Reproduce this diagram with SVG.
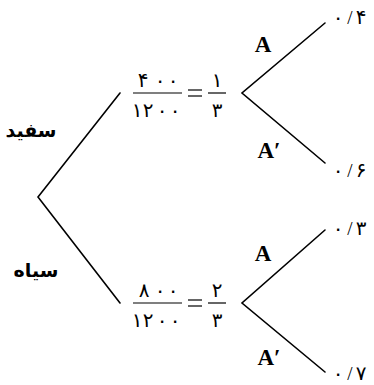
<svg xmlns="http://www.w3.org/2000/svg" width="374" height="385" viewBox="0 0 374 385">
<style>
.ln{stroke:#000;stroke-width:1.6;fill:none;stroke-linecap:round}
.fa{font-family:"DejaVu Sans",sans-serif;font-size:20px;fill:#000;text-anchor:middle}
.sl{font-family:"Liberation Serif",serif;font-size:19px;fill:#000;text-anchor:middle}
.lbl{font-family:"DejaVu Sans",sans-serif;font-size:19px;font-weight:bold;fill:#000;text-anchor:middle}
.ev{font-family:"Liberation Serif",serif;font-size:23px;font-weight:bold;fill:#000;text-anchor:middle}
.bar{stroke:#000;stroke-width:1.2}
</style>
<rect width="374" height="385" fill="#fff"/>
<g id="connectors">
<path class="ln" d="M120,93 L38,197 L120,303"/>
<path class="ln" d="M325,23 L242,93 L325,163"/>
<path class="ln" d="M325,230 L242,303 L325,372"/>
</g>
<g id="white">
<text class="lbl" x="31" y="137">سفید</text>
<text class="fa" x="143 160 173" y="87">۴۰۰</text>
<line class="bar" x1="133" y1="93" x2="182" y2="93"/>
<text class="fa" x="137 148 162 175" y="117">۱۲۰۰</text>
<line class="bar" x1="188" y1="90" x2="202" y2="90"/>
<line class="bar" x1="188" y1="96" x2="202" y2="96"/>
<text class="fa" x="217" y="87">۱</text>
<line class="bar" x1="208" y1="93" x2="226" y2="93"/>
<text class="fa" x="217" y="117">۳</text>
</g>
<g id="black">
<text class="lbl" x="36" y="277">سیاه</text>
<text class="fa" x="144 160 173" y="297">۸۰۰</text>
<line class="bar" x1="133" y1="303" x2="182" y2="303"/>
<text class="fa" x="137 148 162 175" y="327">۱۲۰۰</text>
<line class="bar" x1="188" y1="300" x2="202" y2="300"/>
<line class="bar" x1="188" y1="306" x2="202" y2="306"/>
<text class="fa" x="217" y="297">۲</text>
<line class="bar" x1="208" y1="303" x2="226" y2="303"/>
<text class="fa" x="217" y="327">۳</text>
</g>
<g id="w-A">
<text class="ev" x="263" y="52">A</text>
<text class="fa" x="338" y="24">۰</text>
<text class="sl" x="350" y="24">/</text>
<text class="fa" x="361" y="24">۴</text>
</g>
<g id="w-Ap">
<text class="ev" x="269" y="158">A′</text>
<text class="fa" x="338" y="177">۰</text>
<text class="sl" x="350" y="177">/</text>
<text class="fa" x="361" y="177">۶</text>
</g>
<g id="b-A">
<text class="ev" x="263" y="261">A</text>
<text class="fa" x="338" y="235">۰</text>
<text class="sl" x="350" y="235">/</text>
<text class="fa" x="361" y="235">۳</text>
</g>
<g id="b-Ap">
<text class="ev" x="269" y="365">A′</text>
<text class="fa" x="338" y="380">۰</text>
<text class="sl" x="350" y="380">/</text>
<text class="fa" x="361" y="380">۷</text>
</g>
</svg>
